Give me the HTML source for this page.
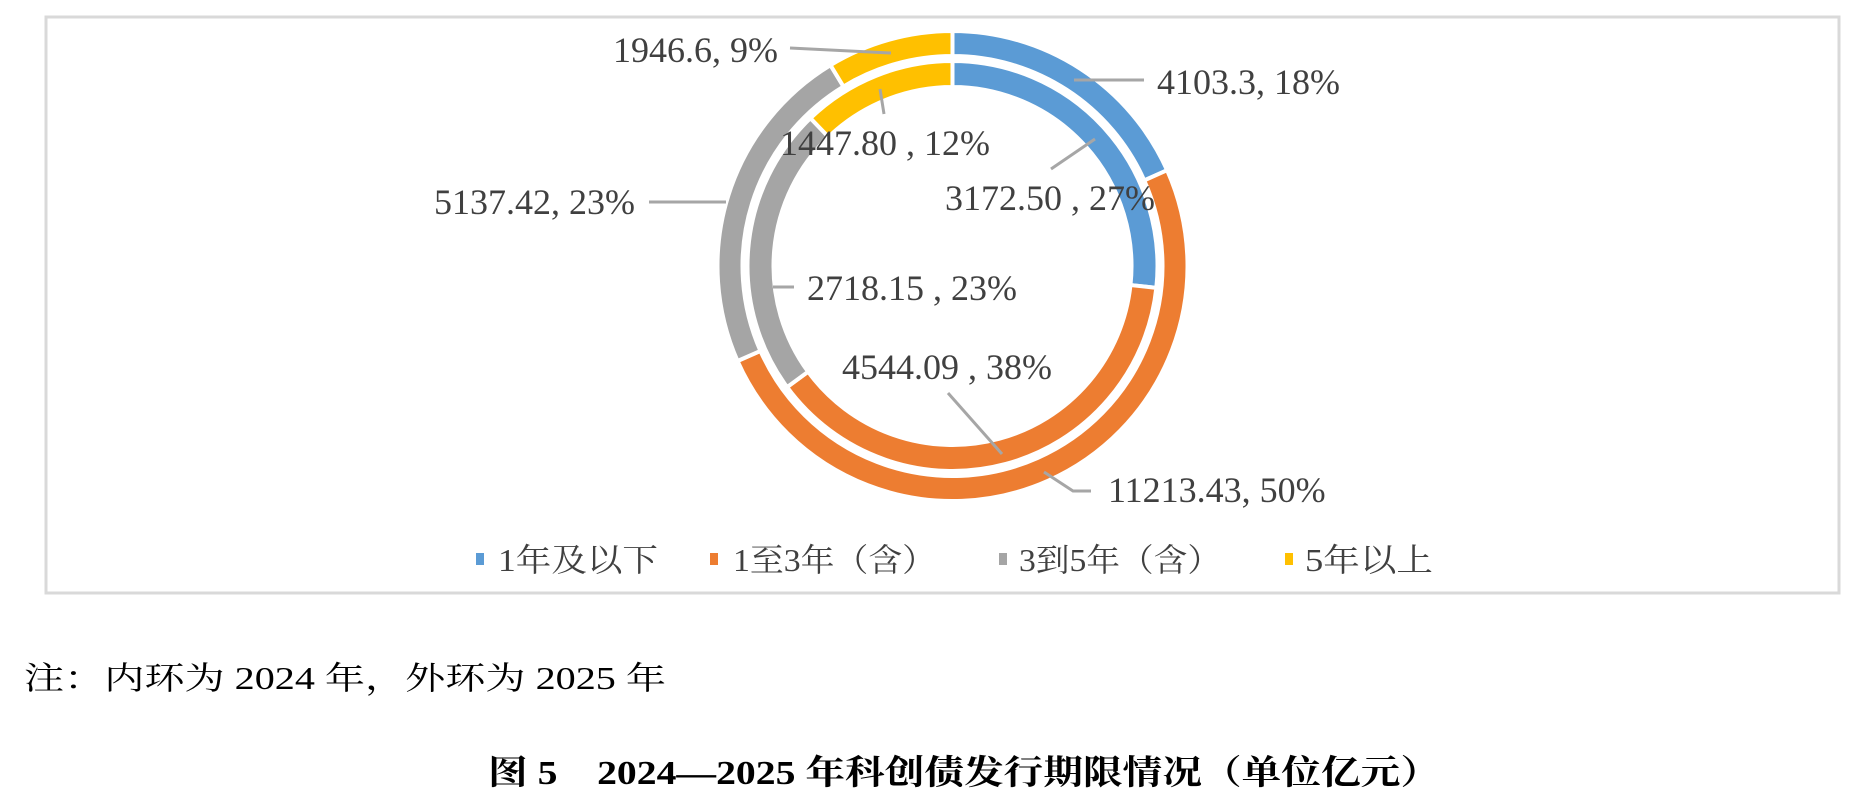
<!DOCTYPE html>
<html><head><meta charset="utf-8"><style>
html,body{margin:0;padding:0;background:#fff;}
svg{display:block;}
text{font-family:"Liberation Serif","Noto Serif CJK SC",serif;fill:#404040;}
</style></head><body>
<svg id="chart" width="1866" height="806" viewBox="0 0 1866 806" xmlns="http://www.w3.org/2000/svg">
<rect x="46" y="17" width="1793" height="576" fill="#fff" stroke="#d9d9d9" stroke-width="3"/>
<g id="rings"></g>
<g id="leaders" stroke="#a6a6a6" stroke-width="3" fill="none">
<polyline points="790,48 891,53"/>
<polyline points="1074,80 1144,80"/>
<polyline points="884,114 880,89"/>
<polyline points="1051,169 1095,139"/>
<polyline points="773,287 794,287"/>
<polyline points="948,393 1002,454"/>
<polyline points="1044,472 1073,491 1091,491"/>
<polyline points="649,202 726,202"/>
</g>
<g id="labels" font-size="36"></g>
<g font-size="32">
<rect x="476" y="553" width="8" height="12" fill="#5b9bd5"/>
<text x="498" y="571" textLength="160" lengthAdjust="spacingAndGlyphs">1年及以下</text>
<rect x="710" y="553" width="8" height="12" fill="#ed7d31"/>
<text x="733" y="571" textLength="203" lengthAdjust="spacingAndGlyphs">1至3年（含）</text>
<rect x="999" y="553" width="8" height="12" fill="#a5a5a5"/>
<text x="1019" y="571" textLength="202" lengthAdjust="spacingAndGlyphs">3到5年（含）</text>
<rect x="1285" y="553" width="8" height="12" fill="#ffc000"/>
<text x="1305" y="571" textLength="128" lengthAdjust="spacingAndGlyphs">5年以上</text>
</g>
<text x="24" y="689" font-size="32" fill="#000" style="fill:#000" textLength="642" lengthAdjust="spacingAndGlyphs">注：内环为 2024 年，外环为 2025 年</text>
<text x="488" y="784" font-size="34" font-weight="bold" style="fill:#000" textLength="952" lengthAdjust="spacingAndGlyphs">图 5　2024—2025 年科创债发行期限情况（单位亿元）</text>
</svg>
<script>
const categories = ["1年及以下","1至3年（含）","3到5年（含）","5年以上"];
const values2025 = [4103.3, 11213.43, 5137.42, 1946.6];
const values2024 = [3172.50, 4544.09, 2718.15, 1447.80];
const labels2025 = ["4103.3, 18%","11213.43, 50%","5137.42, 23%","1946.6, 9%"];
const labels2024 = ["3172.50 , 27%","4544.09 , 38%","2718.15 , 23%","1447.80 , 12%"];
const colors = ["#5b9bd5","#ed7d31","#a5a5a5","#ffc000"];
const cx = 952.5, cy = 266;
const NS = "http://www.w3.org/2000/svg";
function pt(r,a){return [cx + r*Math.sin(a), cy - r*Math.cos(a)];}
function arc(r0,r1,a0,a1){
  const large = (a1-a0)>Math.PI?1:0;
  const p0=pt(r1,a0),p1=pt(r1,a1),p2=pt(r0,a1),p3=pt(r0,a0);
  return `M${p0}A${r1},${r1} 0 ${large} 1 ${p1}L${p2}A${r0},${r0} 0 ${large} 0 ${p3}Z`;
}
function ring(vals,r0,r1,name){
  const tot = vals.reduce((a,b)=>a+b,0);
  let a=0;
  vals.forEach((v,i)=>{
    const a1 = a + v/tot*2*Math.PI;
    const p=document.createElementNS(NS,"path");
    p.setAttribute("d",arc(r0,r1,a,a1));
    p.setAttribute("fill",colors[i]);
    p.setAttribute("stroke","#fff");
    p.setAttribute("stroke-width","4");
    
    
    document.getElementById("rings").appendChild(p);
    a=a1;
  });
}
ring(values2025,210,235,"outer-ring-2025");
ring(values2024,179,205,"inner-ring-2024");
const labelPos2025=[[1157,94],[1108,502],[434,214],[613,62]];
const labelPos2024=[[945,210],[842,379],[807,300],[780,155]];
function addLabels(list,pos,name){
  list.forEach((t,i)=>{
    const e=document.createElementNS(NS,"text");
    e.setAttribute("x",pos[i][0]);e.setAttribute("y",pos[i][1]);
    e.textContent=t;
    
    
    document.getElementById("labels").appendChild(e);
  });
}
addLabels(labels2025,labelPos2025,"outer");
addLabels(labels2024,labelPos2024,"inner");
</script>
</body></html>
